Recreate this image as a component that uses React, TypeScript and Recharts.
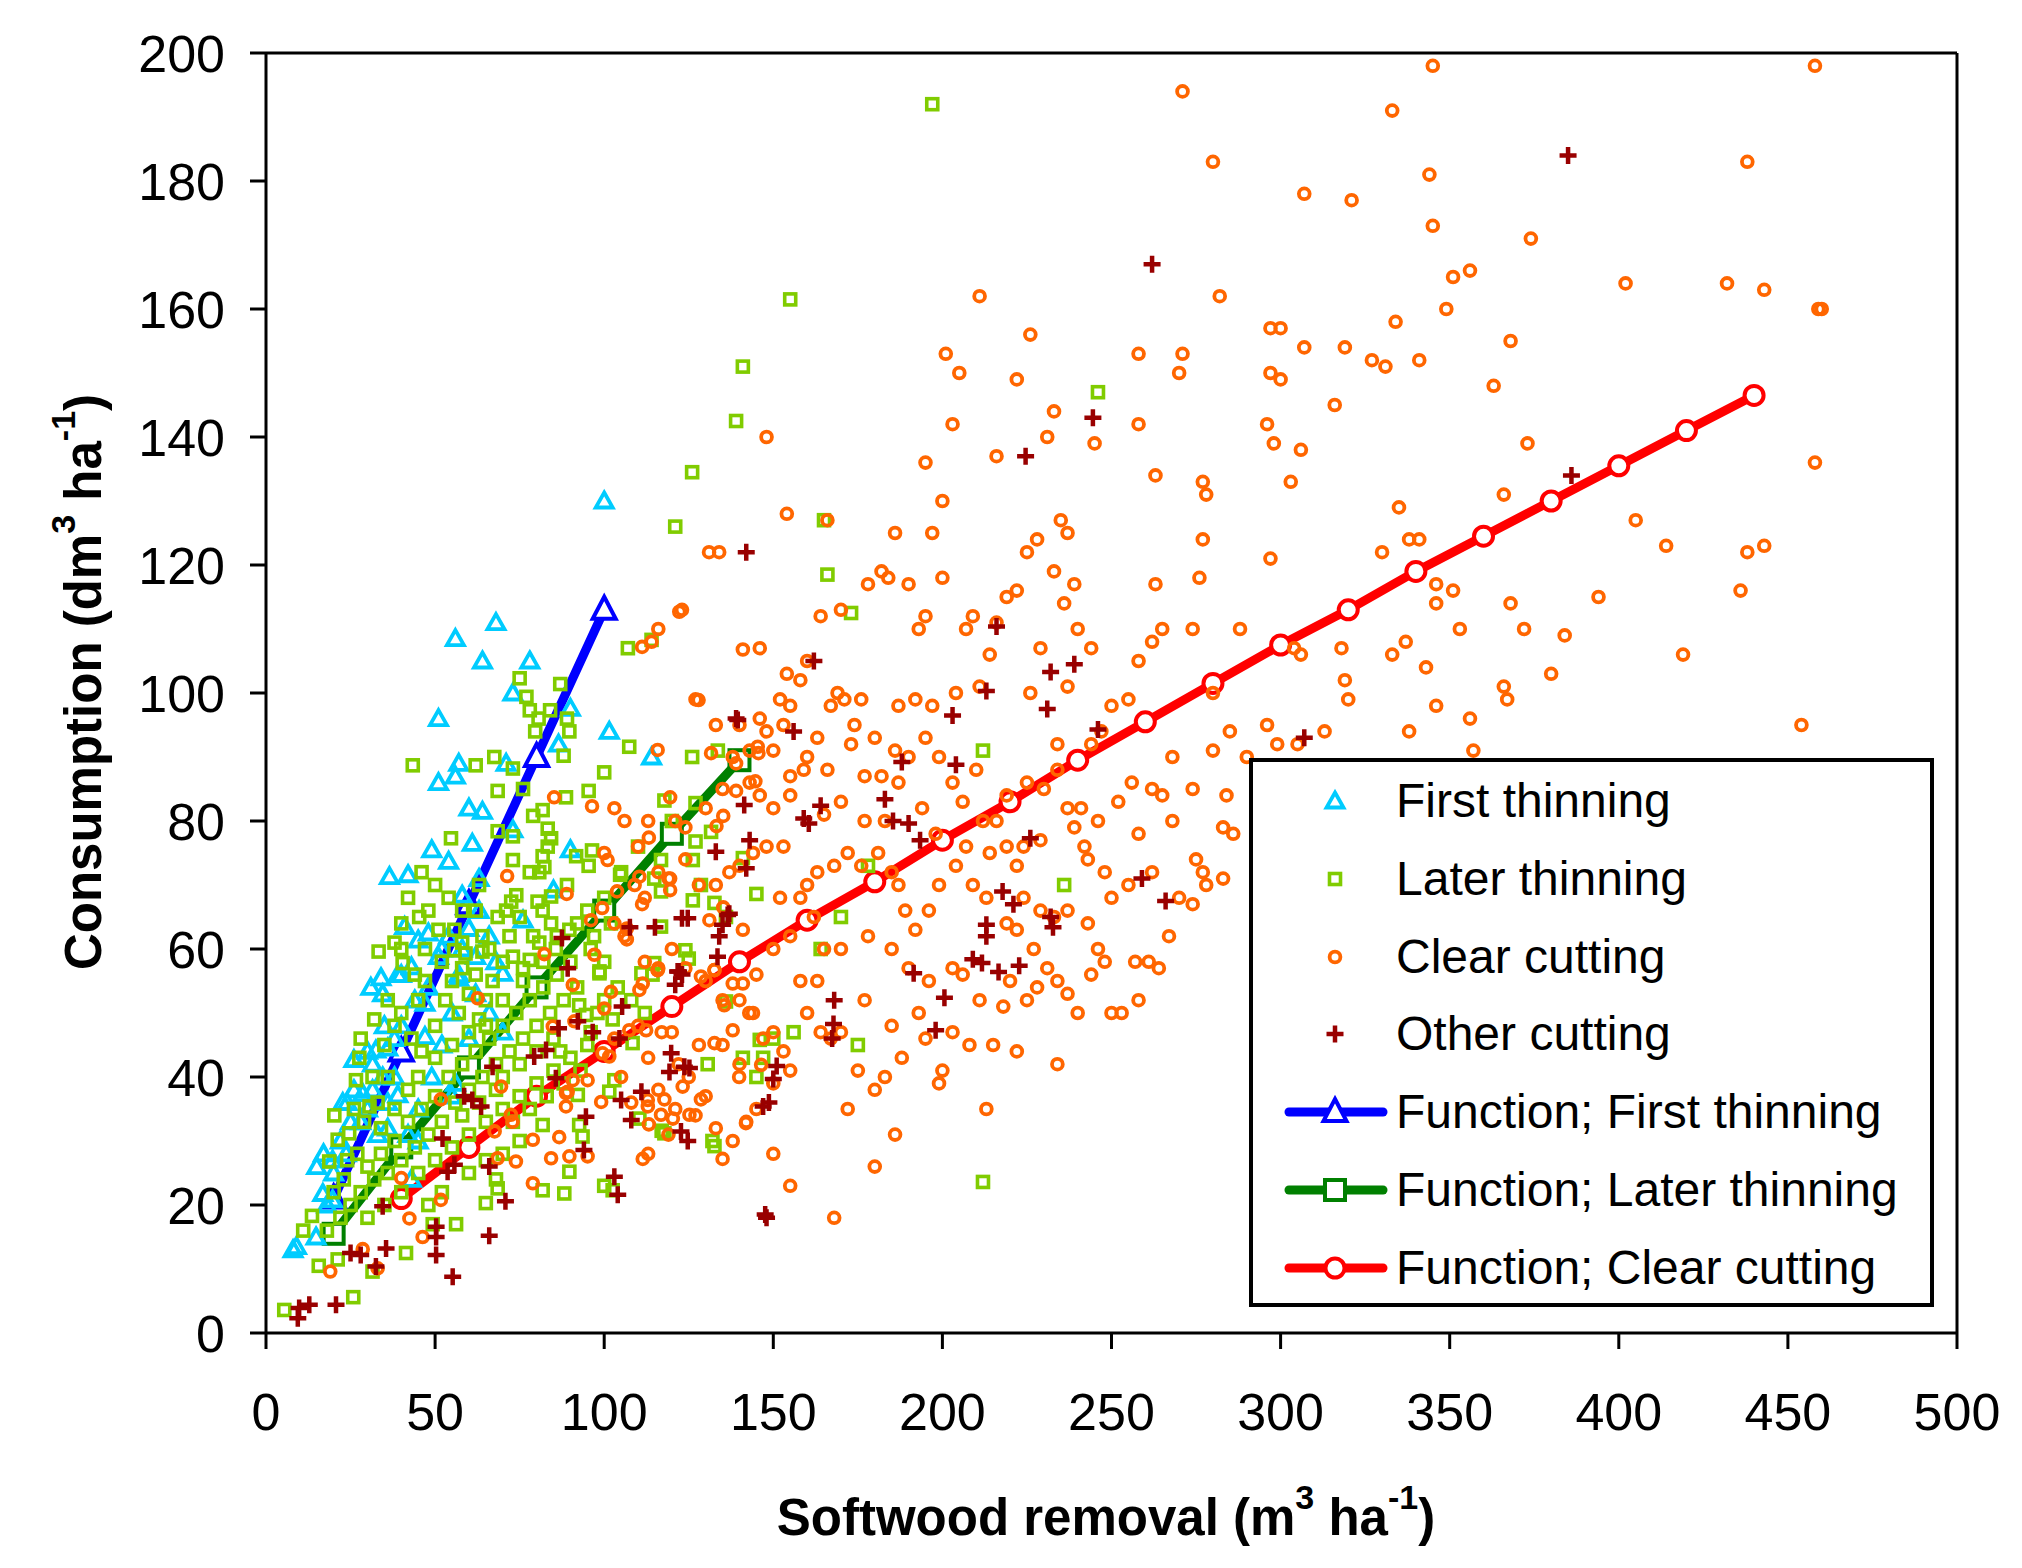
import React from 'react';
import { ScatterChart, Scatter, XAxis, YAxis, ReferenceLine, Legend } from 'recharts';

const FONT = '"Liberation Sans", Arial, Helvetica, sans-serif';

const X_TICKS = [0, 50, 100, 150, 200, 250, 300, 350, 400, 450, 500];
const Y_TICKS = [0, 20, 40, 60, 80, 100, 120, 140, 160, 180, 200];

const LEGEND_LABELS = [
  'First thinning',
  'Later thinning',
  'Clear cutting',
  'Other cutting',
  'Function; First thinning',
  'Function; Later thinning',
  'Function; Clear cutting',
];

const FIRST_THINNING: [number, number][] = [
  [100, 130], [68, 111], [56, 108.5], [64, 105], [78, 105], [73, 100], [90, 97.6], [51, 96], [86.5, 92], [101.5, 94],
  [114, 90], [57, 89], [56, 87], [51, 86], [71, 89], [60, 82], [64, 81.5], [73, 78.6], [61, 76.5], [49, 75.5],
  [54, 73.7], [90, 75.5], [36.5, 71.3], [42, 71.6], [63, 71], [58, 68.4], [85, 69.2], [76, 64.5], [41, 63.5], [45, 61.4],
  [48, 62.5], [51, 58.8], [60, 63.2], [62, 58.8], [70, 56.2], [57, 56], [43, 57.2], [39, 56], [34, 55.5], [31, 54],
  [34.5, 53], [40, 56], [57, 55.4], [55, 50], [47, 46.3], [47, 51.5], [32.5, 44.2], [36, 44.5], [26, 42.7], [31.5, 42],
  [28.6, 37.4], [31.5, 38], [22.7, 36], [34.5, 40], [39, 37.2], [17, 28], [15, 26], [19.7, 27], [23.7, 28], [16.8, 21.8],
  [19.7, 20.8], [14.8, 15], [9, 13.5], [43, 24], [56, 39], [55, 37], [42, 31], [45, 30], [8, 13], [20, 25],
  [22, 30], [25, 33], [28, 33], [30, 35], [33, 31], [36, 36], [38, 46], [40, 48], [44, 52], [48, 54],
  [52, 60], [54, 62], [58, 60], [63, 66], [66, 62], [68, 58], [38, 40], [36, 32], [26, 38], [24, 36],
  [30, 44], [18, 20], [35, 48], [62, 53], [66, 50], [70, 47], [60, 46], [52, 45], [49, 40], [45, 35],
];

const LATER_THINNING: [number, number][] = [
  [197, 192], [155, 161.5], [141, 151], [139, 142.5], [246, 147], [126, 134.5], [121, 126], [165, 127], [166, 118.5], [173, 112.5],
  [114, 108.3], [107, 107], [236, 70], [212, 23.6], [212, 91], [178, 73], [175, 45], [132, 30], [145, 40], [117, 31.6],
  [100, 23], [170, 65], [164, 60], [147, 43], [150, 46], [156, 47],
  [75, 102.3], [87, 101.4], [77, 99.4], [78, 97.3], [84, 97.3], [80.6, 96], [89, 96], [79.6, 94], [89.7, 94], [107.4, 91.6],
  [133.6, 91], [126, 90], [100, 87.6], [88, 90.2], [43.4, 88.7], [62, 88.7], [67.5, 90], [73, 88.2], [76, 85], [68.5, 84.7],
  [88.7, 83.7], [95.4, 84.7], [117.8, 83.2], [127, 82.8], [79, 80.8], [81.8, 81.7], [83.3, 78.8], [68.5, 78.4], [73, 77.6], [54.7, 77.3],
  [84.3, 77.3], [83.3, 76], [127, 76.8], [131.6, 78.3], [81.8, 74.5], [91.7, 74.5], [96.4, 75.4], [73, 73.9], [116.8, 73.9], [126.2, 73.9],
  [141, 74.2], [78, 72], [80.8, 72], [82.3, 72.8], [95.4, 73], [104.7, 71.6], [114.8, 71], [116.8, 69], [128.6, 70], [145, 68.6],
  [126.2, 67.6], [132.6, 67.2], [136, 65], [89, 70], [63, 70], [74, 68.4], [72.5, 67.4], [80.3, 67.4], [84.3, 68.2], [81.8, 66],
  [45.3, 65], [40, 64], [68.5, 65], [75, 65], [84.3, 64], [116.8, 63.5], [102, 64], [51, 63], [55.7, 63], [64, 62],
  [72, 62], [89.7, 63], [97, 62], [38, 61], [33.3, 59.6], [64, 59.6], [58, 61], [55.7, 59.8], [59, 59.3], [73, 58.8],
  [78, 58.3], [80.8, 61], [85.7, 60], [124, 59.8], [125, 58.5], [114.8, 57.8], [98.6, 56.5], [111, 56.2], [40.4, 57.8],
  [5.4, 3.6], [25.8, 5.6], [11, 16], [13.6, 18.3], [15.6, 10.5], [21.2, 11.5], [31.5, 9.6], [20.2, 34], [21.2, 30.2], [24.6, 31.2],
  [18.7, 26.8], [27.6, 43], [26.6, 39.5], [31.5, 40], [30.6, 35.4], [41.4, 12.5], [56.2, 17], [49.3, 17], [65, 20.3], [68, 24],
  [68.5, 22.6], [81.8, 22.3], [88.2, 21.8], [89.7, 25.2], [81.8, 32.5], [92.6, 32.5], [93.6, 30.7], [102.5, 22.3], [117.8, 31.2], [132.6, 29.2],
  [110.4, 33.5], [103, 39.5], [101.5, 37.7], [108.4, 45.3], [130.6, 42], [141, 43], [146, 45.8], [136, 51.8], [114.3, 56], [98.6, 56.2],
  [92.6, 51.2], [94.6, 49.7], [102.5, 49], [92.2, 37.2],
  [20, 22], [23, 24], [25, 20], [28, 22], [30, 26], [27, 28], [32, 24], [34, 28], [36, 25], [38, 30],
  [40, 27], [42, 33], [44, 29], [46, 35], [48, 31], [50, 37], [52, 33], [54, 40], [56, 36], [58, 42],
  [60, 38], [62, 44], [64, 40], [66, 46], [68, 42], [70, 48], [72, 44], [74, 50], [76, 46], [78, 52],
  [80, 48], [82, 54], [84, 50], [86, 56], [88, 52], [90, 58], [35, 45], [38, 48], [40, 50], [43, 46],
  [45, 52], [47, 55], [50, 48], [53, 52], [55, 55], [57, 50], [60, 53], [62, 56], [65, 52], [67, 55],
  [70, 52], [36, 40], [33, 36], [29, 33], [26, 35], [24, 27], [22, 18], [18, 16], [30, 18], [35, 20],
  [40, 22], [45, 25], [50, 27], [55, 29], [60, 31], [65, 33], [70, 35], [75, 37], [80, 39], [85, 41],
  [90, 43], [95, 45], [45, 40], [50, 43], [55, 45], [60, 47], [65, 48], [70, 40], [75, 42], [80, 44],
  [85, 46], [60, 25], [65, 27], [70, 28], [75, 30], [52, 22], [48, 20], [42, 38], [38, 35], [58, 34],
  [63, 36], [68, 38], [73, 33], [78, 35], [83, 37], [88, 39], [93, 41], [96, 47], [98, 50], [92, 54],
  [87, 44], [62, 66], [58, 66], [54, 68], [48, 66], [44, 56], [40, 60], [36, 52], [32, 49], [28, 46],
  [34, 32], [46, 44], [52, 58], [66, 60], [70, 58], [76, 55], [82, 58], [86, 62], [92, 64], [96, 60],
  [100, 58], [104, 54], [108, 52], [112, 50], [100, 52], [95, 66], [100, 68], [105, 72], [110, 76], [120, 80],
  [58, 57], [63, 49], [76, 57], [79, 62], [71, 66], [50, 70], [46, 72], [42, 68], [47, 60],
];

const CLEAR_CUTTING: [number, number][] = [
  [345, 198], [458, 198], [271, 194], [333, 191], [280, 183], [344, 181], [438, 183], [307, 178], [321, 177], [374, 171],
  [345, 173], [356, 166], [351, 165], [349, 160], [282, 162], [211, 162], [258, 153], [271, 153], [297, 157], [300, 157],
  [307, 154], [319, 154], [334, 158], [341, 152], [368, 155], [402, 164], [432, 164], [443, 163], [459, 160], [460, 160],
  [201, 153], [205, 150], [226, 156], [222, 149],
  [148, 140], [154, 128], [166, 127], [195, 136], [197, 125], [200, 130], [203, 142], [216, 137], [233, 144], [231, 140],
  [245, 139], [258, 142], [263, 134], [270, 150], [277, 133], [278, 131], [277, 124], [297, 150], [300, 149], [316, 145],
  [296, 142], [298, 139], [303, 133], [306, 138], [297, 121], [327, 152], [331, 151], [330, 122], [335, 129], [338, 124],
  [341, 124], [366, 131], [373, 139], [363, 148], [405, 127], [414, 123], [438, 122], [443, 123], [458, 136], [186, 125],
  [225, 122], [228, 124], [237, 125], [235, 127], [134, 122],
  [276, 118], [263, 117], [265, 110], [274, 110], [288, 110], [304, 107], [306, 106], [319, 102], [346, 117], [351, 116],
  [353, 110], [346, 114], [337, 108], [343, 104], [333, 106], [368, 114], [372, 110], [380, 103], [384, 109], [394, 115],
  [419, 106], [436, 116], [454, 95], [366, 101], [367, 99], [356, 96], [346, 98], [357, 91], [338, 94], [320, 99],
  [318, 107], [313, 94], [305, 92], [296, 95], [299, 92], [290, 90], [280, 91], [268, 90], [258, 105], [255, 99],
  [250, 98], [244, 107], [240, 110], [236, 114], [239, 117], [233, 119], [222, 116], [219, 115], [214, 106], [216, 111],
  [207, 110], [209, 112], [204, 100], [195, 112], [193, 110], [192, 99], [197, 98], [187, 98], [182, 119], [184, 118],
  [178, 117], [176, 99], [171, 99], [169, 100], [167, 98], [164, 112], [160, 105], [158, 102], [154, 103], [153, 95],
  [155, 98], [152, 99], [146, 107], [143, 91], [146, 96], [148, 94], [140, 95], [133, 95], [131, 122], [127, 99],
  [123, 113], [116, 110], [114, 108], [244, 92], [247, 94], [234, 92], [226, 100], [229, 107], [211, 101], [186, 91],
  [180, 93], [174, 95], [163, 93], [160, 90], [150, 91], [170, 113], [190, 117], [200, 118], [237, 101], [262, 108],
  [285, 94], [280, 100],
  [103, 82], [106, 80], [113, 80], [110, 76], [121, 80], [124, 79], [130, 82], [135, 85], [138, 90], [143, 86],
  [146, 84], [150, 82], [155, 84], [153, 76], [148, 76], [144, 75], [140, 73], [137, 72], [133, 70], [128, 70],
  [124, 74], [119, 71], [116, 72], [112, 68], [109, 70], [100, 75], [158, 68], [160, 70], [163, 72], [168, 73],
  [172, 75], [176, 73], [181, 75], [185, 72], [187, 70], [189, 66], [192, 63], [196, 66], [199, 70], [204, 73],
  [207, 76], [209, 70], [213, 68], [222, 63], [219, 64], [224, 68], [229, 66], [233, 65], [237, 66], [243, 64],
  [250, 68], [255, 70], [248, 72], [243, 74], [242, 76], [239, 79], [237, 82], [241, 82], [222, 73], [219, 76],
  [224, 76], [214, 75], [216, 80], [219, 84], [225, 86], [230, 85], [212, 80], [206, 83], [203, 86], [199, 90],
  [195, 93], [190, 90], [187, 86], [182, 87], [177, 87], [173, 92], [166, 88], [159, 88], [155, 87], [252, 83],
  [256, 86], [262, 85], [265, 84], [268, 80], [274, 85], [277, 72], [275, 74], [283, 79], [286, 78], [284, 84],
  [267, 62], [270, 68], [274, 67], [278, 70], [283, 71], [262, 72], [258, 78], [246, 80], [170, 60], [165, 60],
  [178, 62], [185, 60], [162, 65], [198, 78], [194, 82], [183, 80], [229, 77], [234, 88], [210, 88], [165, 81],
  [170, 83], [177, 80], [152, 68],
  [103, 64], [106, 62], [112, 58], [116, 57], [120, 60], [124, 57], [130, 55], [135, 52], [140, 52], [144, 50],
  [147, 46], [150, 47], [153, 44], [155, 41], [150, 39], [145, 35], [142, 33], [138, 30], [150, 28], [155, 23],
  [168, 18], [164, 47], [167, 46], [170, 47], [175, 41], [180, 38], [183, 40], [188, 43], [195, 46], [199, 39],
  [200, 41], [203, 47], [196, 55], [190, 57], [206, 56], [203, 57], [211, 52], [218, 51], [213, 35], [220, 55],
  [225, 52], [228, 54], [231, 57], [234, 55], [237, 53], [234, 42], [227, 60], [246, 60], [248, 58], [250, 50],
  [253, 50], [258, 52], [257, 58], [261, 58], [264, 57], [180, 26], [186, 31], [172, 35], [160, 50], [158, 55],
  [163, 55], [177, 52], [185, 48], [193, 50], [208, 45], [215, 45], [222, 44], [240, 50], [244, 56], [110, 48],
  [113, 43], [117, 47], [120, 47], [122, 42], [125, 40], [128, 45], [130, 37], [133, 32], [127, 34], [121, 35],
  [116, 38], [119, 31], [113, 28], [108, 36], [105, 40], [103, 46], [135, 45], [140, 42], [145, 56], [150, 60],
  [155, 62],
  [19, 9.6], [28.6, 13.1], [33, 10.1], [42.4, 17.9], [46.3, 15], [51.7, 20.8], [40, 24.2], [51.7, 36.5], [62.6, 52.3], [69.5, 38.5],
  [67.6, 31.5], [68.5, 27.3], [73.9, 26.8], [72.4, 34.1], [72.9, 33], [78.9, 23.4], [78.9, 30.2], [86.7, 30.6], [84.3, 27.3], [89.7, 27.6],
  [95.1, 27.6], [111.4, 27.2], [88.7, 35.4], [88.7, 37.5], [95.1, 39.5], [90.7, 39.5], [99.1, 36.1], [100, 50.7], [102, 53.3], [90.7, 54.4],
  [107.4, 47.3], [112.4, 47.3], [110.4, 53.6], [111.4, 54.6], [115.8, 56.7], [128.6, 55.7], [132.6, 56.7], [138, 54.6], [141, 54.6], [135.5, 51.2],
  [142.9, 50], [138, 47.3], [132.6, 45.3], [139.9, 40], [146.4, 41.9], [123.2, 38.5], [117.8, 36.5], [112.9, 36.4], [112.9, 35.4], [116.8, 34.1],
  [120.3, 33.5], [125.2, 34.1], [113.2, 32.6], [128.6, 36.5], [141.9, 32.8], [135, 27.2], [89.2, 37.7], [99.5, 43.7], [101.5, 43.2], [91.2, 48.7],
  [84.8, 47.9],
  [122.2, 112.7], [111.2, 107.2], [141, 106.8], [127.9, 98.9], [115.8, 91.1], [131.6, 90.6], [145.4, 91.6], [145.6, 90.6], [139, 89], [144.7, 86.2],
  [139, 84.7], [85.2, 83.7], [96.4, 82.3], [119.5, 83.7], [135.2, 80.8], [133.2, 79.2], [113.2, 77.4], [101, 73.9], [71.3, 71.4], [110.4, 71.3],
  [119.5, 71], [119.5, 69.2], [103.8, 69], [88.9, 68.6], [111.2, 67], [99.4, 66.4], [96.1, 64.5], [106.7, 63.2], [106.7, 61.5], [131.1, 64.5],
  [141, 63], [135.2, 66.5], [82.3, 59.2], [97.1, 59.1], [115.8, 56.7], [132.6, 56.7],
];

const OTHER_CUTTING: [number, number][] = [
  [385, 184], [262, 167], [244.5, 143], [224.6, 137], [386, 134], [142, 122], [216, 110.4], [213, 100.3], [203, 96.5], [231, 97.5],
  [239, 104.5], [232, 103.3], [246, 94.3], [139, 96], [156, 94], [164, 82.4], [162, 105], [159, 80.4], [160.5, 79.6], [188, 89.2],
  [204, 88.8], [183, 83.4], [185.4, 80], [190, 79.6], [193.4, 77], [226, 77.3], [191.5, 56.2], [200.6, 52.4], [209, 58.4], [211.7, 57.8],
  [217.8, 69], [213, 63.8], [213, 62], [216.6, 56.4], [222.7, 57.4], [232, 65], [232.7, 63.4], [221, 67], [198, 47.3], [168, 52],
  [167.8, 48.3], [167.4, 46], [148.7, 36], [147.6, 18.5], [151, 41.7], [150, 39.7], [137, 65.5], [135, 63.8], [133.5, 58.8], [123, 64.8],
  [123, 56], [115, 63.4], [107.6, 63.4], [307, 93], [259, 71], [266, 67.5],
  [9.8, 3.9], [9.4, 2.3], [12.8, 4.4], [20.7, 4.4], [25, 12.5], [28, 12.2], [32.5, 10.4], [35.5, 13.2], [34.5, 19.8], [50.3, 16.6],
  [50.3, 15], [50.3, 12.2], [55.2, 8.8], [66, 15.2], [70.8, 20.6], [52.2, 30.4], [53.7, 25.2], [55.7, 26.3], [66, 26], [58.6, 37],
  [61, 36.4], [63.6, 35.4], [67, 41.6], [79.3, 43.2], [82.8, 44.2], [85.7, 39.8], [86.5, 47.6], [92.2, 48.7], [96.6, 47], [104.5, 46],
  [105.3, 51], [89.2, 57], [122, 56.5], [121, 54.4], [119.8, 43.7], [119.3, 40.8], [123.7, 41.6], [125.2, 41.4], [111, 37.7], [105, 36.4],
  [108, 33.3], [94.6, 33.8], [94, 28.6], [122.7, 31.5], [124.7, 30], [103, 24.4], [104, 21.6], [147, 35.4], [148, 18],
  [139.5, 95.8], [141.4, 82.5], [143, 77], [133, 75.2], [142, 72.6], [136.5, 65.3], [124.7, 64.8], [134, 62], [121.7, 56.5], [87.5, 61.7],
];

const FN_FIRST_X = [20, 40, 60, 80, 100];
const FN_FIRST_Y = [21, 44, 67, 90, 113];
const FN_LATER_X = [20, 40, 60, 80, 100, 120, 140];
const FN_LATER_Y = [15.5, 29, 41.5, 54, 66, 78, 89.5];
const FN_CLEAR_X = [40, 60, 80, 100, 120, 140, 160, 180, 200, 220, 240, 260, 280, 300, 320, 340, 360, 380, 400, 420, 440];
const FN_CLEAR_Y = [21, 29, 37, 44, 51, 58, 64.5, 70.5, 77, 83, 89.5, 95.5, 101.5, 107.5, 113, 119, 124.5, 130, 135.5, 141, 146.5];

const pts = (arr: [number, number][]) => arr.map(([x, y]) => ({ x, y }));
const zipPts = (xs: number[], ys: number[]) => xs.map((x, i) => ({ x, y: ys[i] }));

const C_CYAN = '#00CCFF';
const C_LGREEN = '#80CC00';
const C_ORANGE = '#FF6600';
const C_DRED = '#990000';
const C_BLUE = '#0000FF';
const C_GREEN = '#008000';
const C_RED = '#FF0000';

const SmallTri = ({ cx, cy, color }: any) => (
  <path d={`M${cx},${cy - 8.5} L${cx + 8.5},${cy + 6.5} L${cx - 8.5},${cy + 6.5} Z`} fill="none" stroke={color} strokeWidth={3.8} />
);
const SmallSq = ({ cx, cy, color }: any) => (
  <rect x={cx - 5.5} y={cy - 5.5} width={11} height={11} fill="none" stroke={color} strokeWidth={3.6} />
);
const SmallCirc = ({ cx, cy, color }: any) => (
  <circle cx={cx} cy={cy} r={5.4} fill="none" stroke={color} strokeWidth={3.8} />
);
const SmallCross = ({ cx, cy, color }: any) => (
  <path d={`M${cx - 8.5},${cy} H${cx + 8.5} M${cx},${cy - 8.5} V${cy + 8.5}`} fill="none" stroke={color} strokeWidth={4.5} />
);
const BigTri = ({ cx, cy, color }: any) => (
  <path d={`M${cx},${cy - 13} L${cx + 11.5},${cy + 9} L${cx - 11.5},${cy + 9} Z`} fill="#fff" stroke={color} strokeWidth={4} />
);
const BigSq = ({ cx, cy, color }: any) => (
  <rect x={cx - 10} y={cy - 10} width={20} height={20} fill="#fff" stroke={color} strokeWidth={4} />
);
const BigCirc = ({ cx, cy, color }: any) => (
  <circle cx={cx} cy={cy} r={9.5} fill="#fff" stroke={color} strokeWidth={4} />
);

const XTick = (props: any) => {
  const { x, y, payload } = props;
  return (
    <text x={x} y={y + 81} textAnchor="middle" fontSize={52} fontFamily={FONT} fill="#000">
      {payload.value}
    </text>
  );
};

const YTick = (props: any) => {
  const { x, y, payload } = props;
  return (
    <text x={x} y={y + 19} textAnchor="end" fontSize={52} fontFamily={FONT} fill="#000">
      {payload.value}
    </text>
  );
};

const XTitle = () => (
  <text x={1098} y={1527} textAnchor="middle" fontSize={51} fontWeight="bold" fontFamily={FONT} fill="#000">
    Softwood removal (m
    <tspan fontSize={34} dy={-26}>3</tspan>
    <tspan dy={26}> ha</tspan>
    <tspan fontSize={34} dy={-26}>-1</tspan>
    <tspan dy={26}>)</tspan>
  </text>
);

const YTitle = () => (
  <text
    x={0}
    y={0}
    transform="translate(93,674) rotate(-90)"
    textAnchor="middle"
    fontSize={51}
    fontWeight="bold"
    fontFamily={FONT}
    fill="#000"
  >
    Consumption (dm
    <tspan fontSize={34} dy={-26}>3</tspan>
    <tspan dy={26}> ha</tspan>
    <tspan fontSize={34} dy={-26}>-1</tspan>
    <tspan dy={26}>)</tspan>
  </text>
);

const LEG_BASE = [59, 137, 215, 292, 370, 448, 526];

const renderLegend = () => {
  const sx = 86;
  const tx = 147;
  const small = [SmallTri, SmallSq, SmallCirc, SmallCross];
  const smallColors = [C_CYAN, C_LGREEN, C_ORANGE, C_DRED];
  const big = [BigTri, BigSq, BigCirc];
  const bigColors = [C_BLUE, C_GREEN, C_RED];
  return (
    <svg width={685} height={549} style={{ display: 'block' }}>
      <rect x={2} y={2} width={681} height={545} fill="#fff" stroke="#000" strokeWidth={4} />
      {LEGEND_LABELS.map((label, i) => {
        const b = LEG_BASE[i];
        const cy = b - 16;
        let sym: React.ReactNode;
        if (i < 4) {
          const S = small[i];
          sym = <S cx={sx} cy={cy} color={smallColors[i]} />;
        } else {
          const B = big[i - 4];
          const col = bigColors[i - 4];
          sym = (
            <g>
              <line x1={40} y1={cy} x2={134} y2={cy} stroke={col} strokeWidth={9} strokeLinecap="round" />
              <B cx={sx} cy={cy} color={col} />
            </g>
          );
        }
        return (
          <g key={label}>
            {sym}
            <text x={tx} y={b} fontSize={48} fontFamily={FONT} fill="#000">
              {label}
            </text>
          </g>
        );
      })}
    </svg>
  );
};

export default function App() {
  return (
    <div style={{ width: 2006, height: 1552, background: '#fff' }}>
      <ScatterChart width={2006} height={1552} margin={{ top: 45, right: 57, bottom: 0, left: 0 }}>
        <XAxis
          dataKey="x"
          type="number"
          domain={[0, 500]}
          ticks={X_TICKS}
          interval={0}
          allowDataOverflow
          height={227}
          tickSize={16}
          tickMargin={0}
          axisLine={{ stroke: '#000', strokeWidth: 3 }}
          tickLine={{ stroke: '#000', strokeWidth: 3 }}
          tick={<XTick />}
          label={<XTitle />}
        />
        <YAxis
          dataKey="y"
          type="number"
          domain={[0, 200]}
          ticks={Y_TICKS}
          interval={0}
          allowDataOverflow
          width={258}
          tickSize={16}
          tickMargin={25}
          axisLine={{ stroke: '#000', strokeWidth: 3 }}
          tickLine={{ stroke: '#000', strokeWidth: 3 }}
          tick={<YTick />}
          label={<YTitle />}
        />
        <ReferenceLine y={200} stroke="#000" strokeWidth={3} />
        <ReferenceLine x={500} stroke="#000" strokeWidth={3} />
        <Scatter
          name="Function; First thinning"
          data={zipPts(FN_FIRST_X, FN_FIRST_Y)}
          line={{ stroke: C_BLUE, strokeWidth: 9 }}
          lineType="joint"
          isAnimationActive={false}
          shape={(p: any) => <BigTri cx={p.cx} cy={p.cy} color={C_BLUE} />}
        />
        <Scatter
          name="Function; Later thinning"
          data={zipPts(FN_LATER_X, FN_LATER_Y)}
          line={{ stroke: C_GREEN, strokeWidth: 9 }}
          lineType="joint"
          isAnimationActive={false}
          shape={(p: any) => <BigSq cx={p.cx} cy={p.cy} color={C_GREEN} />}
        />
        <Scatter
          name="Function; Clear cutting"
          data={zipPts(FN_CLEAR_X, FN_CLEAR_Y)}
          line={{ stroke: C_RED, strokeWidth: 9 }}
          lineType="joint"
          isAnimationActive={false}
          shape={(p: any) => <BigCirc cx={p.cx} cy={p.cy} color={C_RED} />}
        />
        <Scatter
          name="First thinning"
          data={pts(FIRST_THINNING)}
          isAnimationActive={false}
          shape={(p: any) => <SmallTri cx={p.cx} cy={p.cy} color={C_CYAN} />}
        />
        <Scatter
          name="Later thinning"
          data={pts(LATER_THINNING)}
          isAnimationActive={false}
          shape={(p: any) => <SmallSq cx={p.cx} cy={p.cy} color={C_LGREEN} />}
        />
        <Scatter
          name="Clear cutting"
          data={pts(CLEAR_CUTTING)}
          isAnimationActive={false}
          shape={(p: any) => <SmallCirc cx={p.cx} cy={p.cy} color={C_ORANGE} />}
        />
        <Scatter
          name="Other cutting"
          data={pts(OTHER_CUTTING)}
          isAnimationActive={false}
          shape={(p: any) => <SmallCross cx={p.cx} cy={p.cy} color={C_DRED} />}
        />
        <Legend
          layout="vertical"
          align="center"
          verticalAlign="middle"
          content={renderLegend}
          wrapperStyle={{ position: 'absolute', left: 1241, top: 750, width: 685, height: 549, margin: 0, padding: 0 }}
        />
      </ScatterChart>
    </div>
  );
}
